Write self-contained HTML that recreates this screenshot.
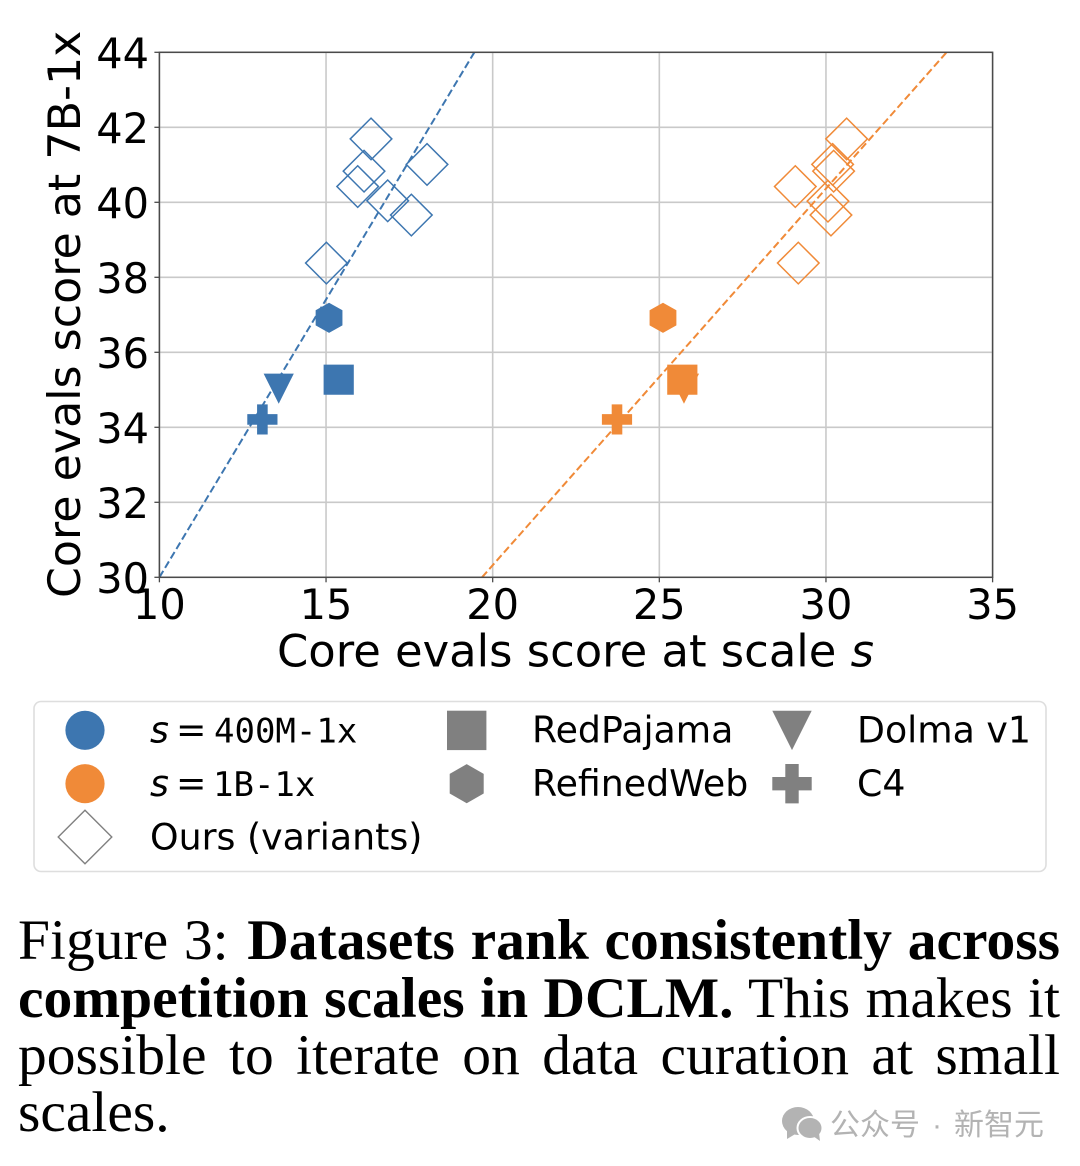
<!DOCTYPE html>
<html lang="en">
<head>
<meta charset="utf-8">
<title>Figure 3: Datasets rank consistently across competition scales</title>
<style>
html,body{margin:0;padding:0;background:#fff;}
#page{position:relative;width:1080px;height:1166px;overflow:hidden;background:#fff;}
#figure{position:absolute;left:0;top:0;}
.cap{position:absolute;left:18px;width:1042px;height:58px;line-height:58px;font-family:"Liberation Serif",serif;font-size:57.5px;color:#000;text-align:justify;text-align-last:justify;}
.cap.last{text-align:left;text-align-last:left;}
.t{font-family:"DejaVu Sans",sans-serif;fill:#000;}
.m{font-family:"DejaVu Sans Mono",monospace;font-size:34px;}
</style>
</head>
<body>
<div id="page">
<svg id="figure" width="1080" height="1166" viewBox="0 0 1080 1166" xmlns="http://www.w3.org/2000/svg">
  <g id="grid"></g>
  <g id="marks"></g>
  <g id="axes"></g>
  <text class="t" x="277" y="666.5" font-size="44.85">Core evals score at scale <tspan font-style="italic">s</tspan></text>
  <text class="t" transform="translate(80,598) rotate(-90)" font-size="44.3">Core evals score at 7B-1x</text>

  <g>
    <rect x="34" y="701.5" width="1012" height="170" rx="7" fill="#fff" stroke="#dedede" stroke-width="1.6"/>
    <g>
      <circle cx="85" cy="730.3" r="19.6" fill="#3d76b0"/>
      <text class="t" y="742.7" font-size="36.3"><tspan x="150" font-style="italic">s</tspan><tspan x="176">=</tspan><tspan class="m" x="214">400M-1x</tspan></text>
    </g>
    <g>
      <circle cx="85" cy="783.7" r="19.6" fill="#f08a38"/>
      <text class="t" y="796" font-size="36.3"><tspan x="150" font-style="italic">s</tspan><tspan x="176">=</tspan><tspan class="m" x="213">1B-1x</tspan></text>
    </g>
    <g>
      <polygon points="85,810.3 111.8,837 85,863.7 58.2,837" fill="#fff" stroke="#808080" stroke-width="1.4"/>
      <text class="t" x="150" y="849.3" font-size="36.3">Ours (variants)</text>
    </g>
    <g>
      <rect x="447" y="710.7" width="39.4" height="39.4" fill="#808080"/>
      <text class="t" x="532" y="742.7" font-size="36.3">RedPajama</text>
    </g>
    <g>
      <polygon points="466.7,764.1 483.7,773.9 483.7,793.5 466.7,803.3 449.7,793.5 449.7,773.9" fill="#808080"/>
      <text class="t" x="532" y="796" font-size="36.3">RefinedWeb</text>
    </g>
    <g>
      <polygon points="772.3,710.7 811.7,710.7 792,750.1" fill="#808080"/>
      <text class="t" x="857" y="742.7" font-size="36.3">Dolma v1</text>
    </g>
    <g>
      <polygon points="785.3,764 798.7,764 798.7,777 811.7,777 811.7,790.4 798.7,790.4 798.7,803.4 785.3,803.4 785.3,790.4 772.3,790.4 772.3,777 785.3,777" fill="#808080"/>
      <text class="t" x="857" y="796" font-size="36.3">C4</text>
    </g>
  </g>

  <g>
    <g fill="#b3b3b3">
      <ellipse cx="798" cy="1121" rx="16" ry="14"/>
      <polygon points="787,1130 787,1139 797,1133"/>
      <ellipse cx="810" cy="1128" rx="12.5" ry="11" stroke="#fff" stroke-width="2"/>
      <polygon points="813,1136 820,1141 819,1133"/>
    </g>
    <text y="1135" font-size="30" fill="#b3b3b3" font-family="'Liberation Sans','Noto Sans CJK SC',sans-serif"><tspan x="830">公众号</tspan><tspan x="932">·</tspan><tspan x="954">新智元</tspan></text>
  </g>
</svg>

<div class="cap" style="top:912px"><span style="margin-right:3px">Figure 3:</span> <b>Datasets rank consistently across</b></div>
<div class="cap" style="top:969.5px"><b>competition scales in DCLM.</b> This makes it</div>
<div class="cap" style="top:1027px">possible to iterate on data curation at small</div>
<div class="cap last" style="top:1084px">scales.</div>
</div>

<script>
const xTicks = [10, 15, 20, 25, 30, 35];
const yTicks = [30, 32, 34, 36, 38, 40, 42, 44];

const blueVariantsX = [16.35, 16.14, 15.95, 16.85, 18.03, 17.56, 15.01];
const orangeVariantsX = [30.62, 30.2, 30.23, 29.08, 30.06, 30.15, 29.17];
const variantsY = [41.69, 40.83, 40.42, 40.04, 41.01, 39.66, 38.38];
const orangeVariantsY = [41.69, 41.01, 40.83, 40.42, 40.03, 39.66, 38.38];

const datasetNames = ['dolma', 'redpajama', 'refinedweb', 'c4'];
const datasetY = [35.03, 35.27, 36.92, 34.21];
const blueDatasetX = [13.58, 15.38, 15.09, 13.09];
const orangeDatasetX = [25.74, 25.69, 25.11, 23.73];

const blueFitX = [10, 19.45];
const orangeFitX = [19.68, 33.62];
const fitY = [30, 44];

const BLUE = '#3d76b0';
const ORANGE = '#f08a38';
const NS = 'http://www.w3.org/2000/svg';

const plot = { left: 159.4, right: 992.6, top: 52.3, bottom: 577.3 };
function xScale(v) { return plot.left + (v - 10) / 25 * (plot.right - plot.left); }
function yScale(v) { return plot.bottom - (v - 30) / 14 * (plot.bottom - plot.top); }

function make(tag, parent) {
  const el = document.createElementNS(NS, tag);
  parent.appendChild(el);
  return el;
}
function setAll(el, props) {
  for (const k in props) el.setAttribute(k, props[k]);
}

const gridG = document.getElementById('grid');
const marksG = document.getElementById('marks');
const axesG = document.getElementById('axes');

xTicks.forEach(function (t) {
  const line = make('line', gridG);
  
  
  setAll(line, { x1: xScale(t), x2: xScale(t), y1: plot.top, y2: plot.bottom, stroke: '#c9c9c9', 'stroke-width': 1.6 });
});
yTicks.forEach(function (t) {
  const line = make('line', gridG);
  
  
  setAll(line, { x1: plot.left, x2: plot.right, y1: yScale(t), y2: yScale(t), stroke: '#c9c9c9', 'stroke-width': 1.6 });
});

function drawFit(xs, color, name) {
  const line = make('line', marksG);
  
  
  setAll(line, { x1: xScale(xs[0]), y1: yScale(fitY[0]), x2: xScale(xs[1]), y2: yScale(fitY[1]), stroke: color, 'stroke-width': 2, 'stroke-dasharray': '7.5 3.5' });
}
drawFit(blueFitX, BLUE, 'fit-line-400m');
drawFit(orangeFitX, ORANGE, 'fit-line-1b');

function drawDiamond(xv, yv, color) {
  const cx = xScale(xv), cy = yScale(yv), r = 20.8;
  const p = make('polygon', marksG);
  
  
  setAll(p, { points: [cx, cy - r, cx + r, cy, cx, cy + r, cx - r, cy].join(' '), fill: 'none', stroke: color, 'stroke-width': 1.5 });
}
blueVariantsX.forEach(function (v, i) { drawDiamond(v, variantsY[i], BLUE); });
orangeVariantsX.forEach(function (v, i) { drawDiamond(v, orangeVariantsY[i], ORANGE); });

function shapePoints(kind, cx, cy) {
  const r = 15.1, a = 5.3, h = 13.4;
  if (kind === 'redpajama') return [cx - r, cy - r, cx + r, cy - r, cx + r, cy + r, cx - r, cy + r];
  if (kind === 'dolma') return [cx - r, cy - r, cx + r, cy - r, cx, cy + r];
  if (kind === 'refinedweb') return [cx, cy - r, cx + h, cy - r / 2, cx + h, cy + r / 2, cx, cy + r, cx - h, cy + r / 2, cx - h, cy - r / 2];
  return [cx - a, cy - r, cx + a, cy - r, cx + a, cy - a, cx + r, cy - a, cx + r, cy + a, cx + a, cy + a, cx + a, cy + r, cx - a, cy + r, cx - a, cy + a, cx - r, cy + a, cx - r, cy - a, cx - a, cy - a];
}
function drawDatasets(xs, color) {
  datasetNames.forEach(function (name, i) {
    const p = make('polygon', marksG);
    
    
    setAll(p, { points: shapePoints(name, xScale(xs[i]), yScale(datasetY[i])).join(' '), fill: color });
  });
}
drawDatasets(blueDatasetX, BLUE);
drawDatasets(orangeDatasetX, ORANGE);

const frame = make('rect', axesG);


setAll(frame, { x: plot.left, y: plot.top, width: plot.right - plot.left, height: plot.bottom - plot.top, fill: 'none', stroke: '#4a4a4a', 'stroke-width': 1.5 });

xTicks.forEach(function (t) {
  const tick = make('line', axesG);
  
  
  setAll(tick, { x1: xScale(t), x2: xScale(t), y1: plot.bottom, y2: plot.bottom + 5, stroke: '#4a4a4a', 'stroke-width': 1.3 });
  const label = make('text', axesG);
  
  
  setAll(label, { x: xScale(t), y: 619, 'text-anchor': 'middle', 'font-size': 41.5, class: 't' });
  label.textContent = String(t);
});
yTicks.forEach(function (t) {
  const tick = make('line', axesG);
  
  
  setAll(tick, { x1: plot.left - 5, x2: plot.left, y1: yScale(t), y2: yScale(t), stroke: '#4a4a4a', 'stroke-width': 1.3 });
  const label = make('text', axesG);
  
  
  setAll(label, { x: 149, y: yScale(t) + 15.5, 'text-anchor': 'end', 'font-size': 41.5, class: 't' });
  label.textContent = String(t);
});
</script>
</body>
</html>
